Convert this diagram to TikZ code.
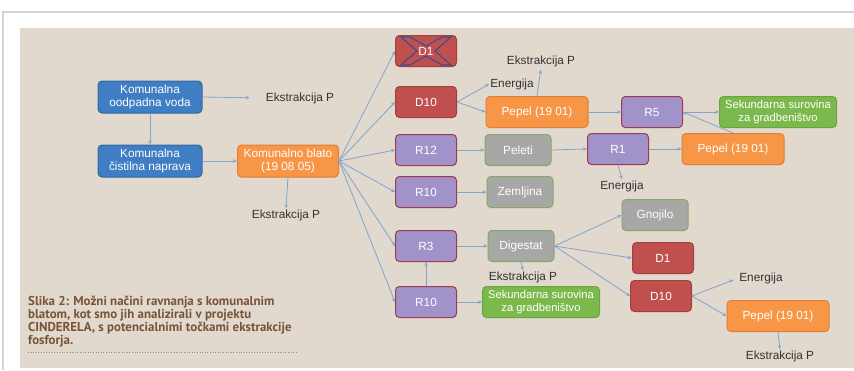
\documentclass[tikz,border=0pt]{standalone}
\usepackage{fontspec}
\setmainfont{Liberation Sans}
\newfontfamily\capfont{PT Sans}
\usetikzlibrary{arrows.meta}
\definecolor{bgc}{HTML}{E1D8CE}
\definecolor{framec}{HTML}{D4D4D4}
\definecolor{arrc}{HTML}{7EA6D0}
\definecolor{labc}{HTML}{333333}
\definecolor{capc}{HTML}{7A5436}
\definecolor{bluef}{HTML}{3F7DC4}
\definecolor{blued}{HTML}{33679F}
\definecolor{orangef}{HTML}{F79646}
\definecolor{oranged}{HTML}{E07F35}
\definecolor{redf}{HTML}{C0504D}
\definecolor{redd}{HTML}{A43F3D}
\definecolor{purplef}{HTML}{A192C9}
\definecolor{purpled}{HTML}{9A3D52}
\definecolor{greyf}{HTML}{A7A7A5}
\definecolor{greyd}{HTML}{84A865}
\definecolor{greenf}{HTML}{7CB94C}
\definecolor{greend}{HTML}{6AA33F}
\definecolor{xc}{HTML}{3B4E8E}
\tikzset{
  box/.style={rounded corners=4pt, line width=1pt, text=white, inner sep=0pt, align=center,
    font=\fontsize{11.8}{13}\selectfont, minimum height=31pt, minimum width=61pt},
  bluebox/.style={box, fill=bluef, draw=blued, minimum width=104pt, minimum height=32pt},
  orangebox/.style={box, fill=orangef, draw=oranged, minimum width=102pt},
  redbox/.style={box, fill=redf, draw=redd},
  purplebox/.style={box, fill=purplef, draw=purpled},
  greybox/.style={box, fill=greyf, draw=greyd, minimum width=66pt},
  greenbox/.style={box, fill=greenf, draw=greend, minimum width=117pt, font=\fontsize{11.2}{13}\selectfont},
  lab/.style={text=labc, inner sep=1pt, font=\fontsize{11.8}{13}\selectfont},
  arr/.style={draw=arrc, line width=0.8pt, -{Stealth[length=4pt,width=3.5pt]}}
}
\begin{document}
\begin{tikzpicture}[x=1pt,y=-1pt]
\useasboundingbox (0,0) rectangle (854,370);
\fill[white] (0,0) rectangle (854,370);
\fill[bgc] (20,28) rectangle (854,368);
\draw[framec, line width=1.5pt] (3,370) -- (3,12) -- (854,12);

% left part
\node[bluebox] (voda) at (150,97) {Komunalna\\oodpadna voda};
\node[bluebox] (cist) at (150,161) {Komunalna\\čistilna naprava};
\node[orangebox, minimum height=32pt, minimum width=101pt] (blato) at (288,161) {Komunalno blato\\(19 08 05)};
\node[lab] (ex1) at (300,98) {Ekstrakcija P};
\node[lab] (ex4) at (286,215) {Ekstrakcija P};

% column of treatments
\node[redbox] (d1a) at (426,51) {};
\draw[xc, line width=1.1pt, shift={(d1a.center)}]
  (-25,-14) -- (-16,-14) -- (0,-5) -- (16,-14) -- (25,-14) -- (9,0) -- (25,14) -- (16,14)
  -- (0,5) -- (-16,14) -- (-25,14) -- (-9,0) -- cycle;
\node[text=white, inner sep=0pt, font=\fontsize{11.8}{13}\selectfont] (d1at) at (d1a.center) {D1};
\node[redbox] (d10a) at (426,102) {D10};
\node[purplebox] (r12) at (426,150) {R12};
\node[purplebox] (r10a) at (426,192) {R10};
\node[purplebox] (r3) at (426,246) {R3};
\node[purplebox] (r10b) at (426,302) {R10};

% upper right
\node[orangebox] (pep1) at (537,112) {Pepel (19 01)};
\node[lab] (ex2) at (541,61) {Ekstrakcija P};
\node[lab] (en1) at (512,84) {Energija};
\node[purplebox] (r5) at (652,112) {R5};
\node[greenbox] (sek1) at (778,112) {Sekundarna surovina\\za gradbeništvo};
\node[greybox] (peleti) at (518,150) {Peleti};
\node[purplebox] (r1) at (618,149) {R1};
\node[orangebox] (pep2) at (733,149) {Pepel (19 01)};
\node[lab] (en2) at (622,186) {Energija};

% lower right
\node[greybox] (zem) at (520,192) {Zemljina};
\node[greybox] (dig) at (521,246) {Digestat};
\node[lab] (ex3) at (523,277) {Ekstrakcija P};
\node[greenbox] (sek2) at (541,302) {Sekundarna surovina\\za gradbeništvo};
\node[greybox] (gno) at (655,215) {Gnojilo};
\node[redbox] (d1b) at (663,258) {D1};
\node[redbox] (d10b) at (661,296) {D10};
\node[lab] (en3) at (761,278) {Energija};
\node[orangebox] (pep3) at (778,316) {Pepel (19 01)};
\node[lab] (ex5) at (780,356) {Ekstrakcija P};

% connectors
\draw[arr, shorten >=15pt] (voda.east) -- (ex1.west);
\draw[arr] (voda.south) -- (cist.north);
\draw[arr] (cist.east) -- (blato.west);
\draw[arr] (blato.south) -- (ex4.north);
\foreach \t in {d1a,d10a,r12,r10a,r3,r10b} \draw[arr] (blato.east) -- (\t.west);
\draw[arr] (d10a.east) -- (en1.west);
\draw[arr] (d10a.east) -- (pep1.west);
\draw[arr, shorten >=2pt] (pep1.north) -- (ex2.south);
\draw[arr] (pep1.east) -- (r5.west);
\draw[arr] (r5.east) -- (sek1.west);
\draw[arr] (pep2.north) -- (r5.east);
\draw[arr] (r12.east) -- (peleti.west);
\draw[arr] (peleti.east) -- (r1.west);
\draw[arr] (r1.east) -- (pep2.west);
\draw[arr] (r1.south) -- (en2.north);
\draw[arr] (r10a.east) -- (zem.west);
\draw[arr] (r3.east) -- (dig.west);
\draw[arr] (dig.south) -- (ex3.north);
\draw[arr] (r10b.north) -- (r3.south);
\draw[arr] (r10b.east) -- (sek2.west);
\draw[arr] (dig.east) -- (gno.west);
\draw[arr] (dig.east) -- (d1b.west);
\draw[arr] (dig.east) -- (d10b.west);
\draw[arr, shorten >=5pt] (d10b.east) -- (en3.west);
\draw[arr] (d10b.east) -- (pep3.west);
\draw[arr] (pep3.south) -- (ex5.north);

% caption
\node[anchor=north west, align=left, inner sep=0pt, text=capc,
  font=\capfont\bfseries\fontsize{12.9}{13}\selectfont] (cap) at (28,296)
  {Slika 2: Možni načini ravnanja s komunalnim\\blatom, kot smo jih analizirali v projektu\\CINDERELA, s potencialnimi točkami ekstrakcije\\fosforja.};
\draw[capc!70, dotted, line width=0.6pt] (28,352) -- (298,352);
\end{tikzpicture}
\end{document}
